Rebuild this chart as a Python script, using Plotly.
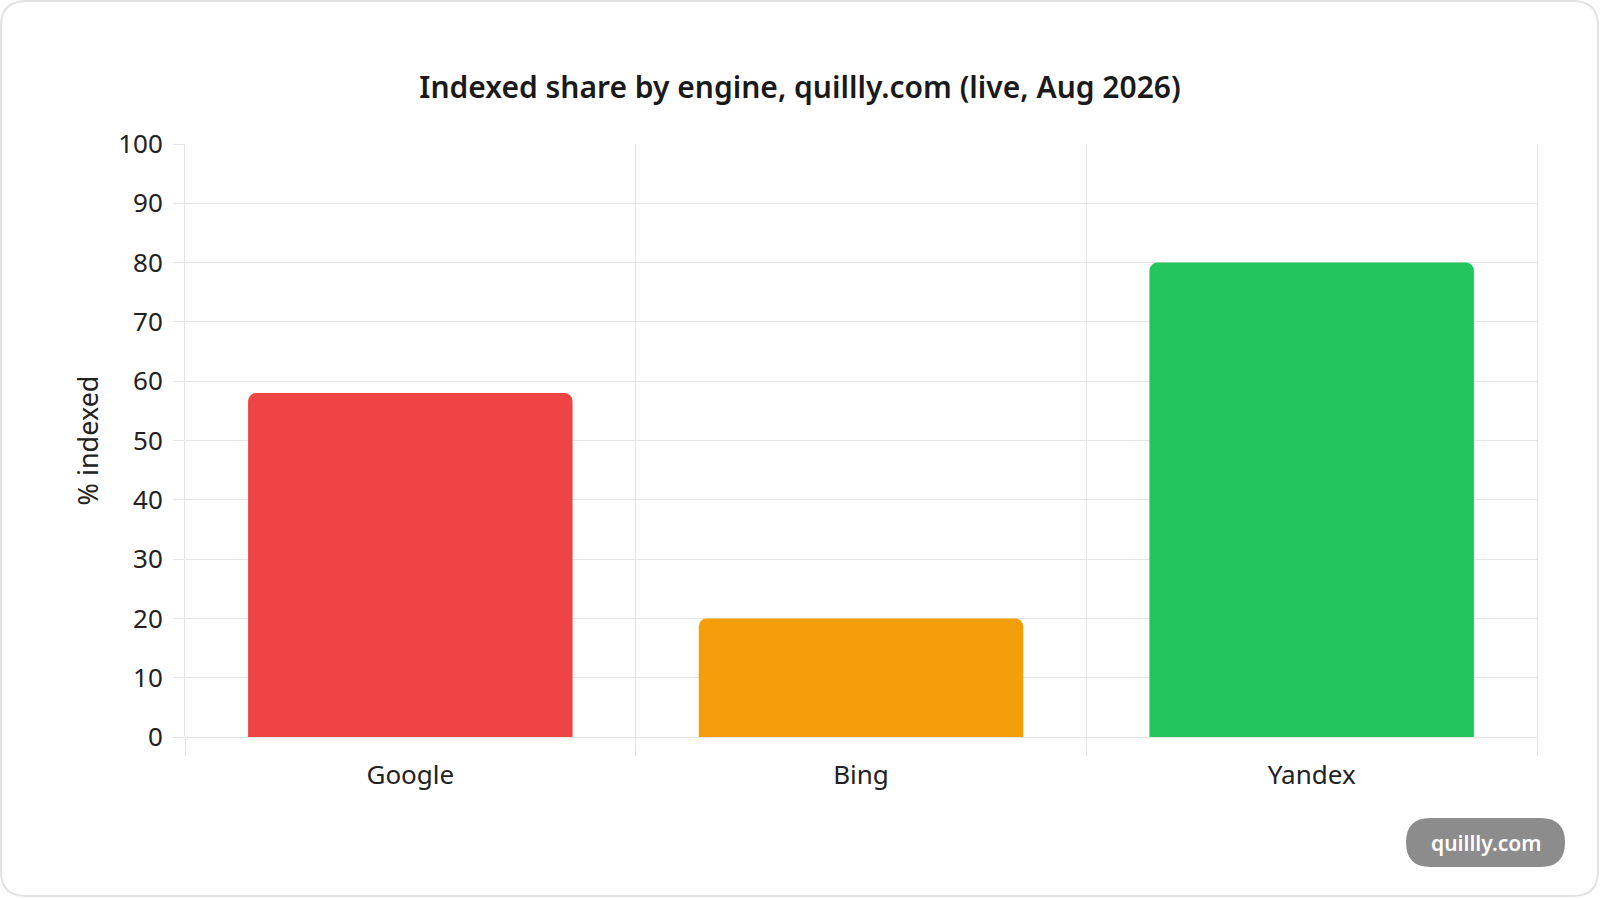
import plotly.graph_objects as go

# data
engines = ["Google", "Bing", "Yandex"]
indexed_pct = [58, 20, 80]
bar_colors = ["#ef4444", "#f59e0b", "#22c55e"]
y_ticks = [0, 10, 20, 30, 40, 50, 60, 70, 80, 90, 100]

W, H = 1600, 898
ML, MR, MT, MB = 185, 63, 144, 161
PW, PH = W - ML - MR, H - MT - MB
GRID = "#e5e5e5"
FONT = "Noto Sans"


def px_x(p):
    return (p - ML) / PW


def px_y(p):
    return (H - MB - p) / PH


def round_rect(x0, y0, x1, y1, r):
    # rounded rectangle in paper units, corners from pixel radius
    rx, ry = r / PW, r / PH
    a, b, c, d = px_x(x0), px_y(y0), px_x(x1), px_y(y1)
    return (f"M{a+rx},{b} L{c-rx},{b} Q{c},{b} {c},{b-ry} "
            f"L{c},{d+ry} Q{c},{d} {c-rx},{d} L{a+rx},{d} "
            f"Q{a},{d} {a},{d+ry} L{a},{b-ry} Q{a},{b} {a+rx},{b} Z")


fig = go.Figure(go.Bar(
    x=engines, y=indexed_pct,
    marker=dict(color=bar_colors, cornerradius=8, line=dict(width=0)),
    hoverinfo="x+y",
))

fig.update_layout(
    width=W, height=H,
    margin=dict(l=ML, r=MR, t=MT, b=MB),
    paper_bgcolor="white", plot_bgcolor="white",
    bargap=0.28,
    showlegend=False,
    font=dict(family=FONT, color="#222222", size=26),
    title=dict(text="Indexed share by engine, quillly.com (live, Aug 2026)",
               x=0.5, xref="container", xanchor="center",
               y=1 - 87 / H, yanchor="middle",
               font=dict(size=30, weight=600, color="#1a1a1a")),
    xaxis=dict(tickson="boundaries", showgrid=True, gridcolor=GRID, gridwidth=1,
               ticks="outside", ticklen=18, tickcolor=GRID, tickwidth=1,
               showline=False, zeroline=False, ticklabelstandoff=20,
               tickfont=dict(size=26)),
    yaxis=dict(range=[0, 100], tickvals=y_ticks, showgrid=True, gridcolor=GRID,
               gridwidth=1, zeroline=True, zerolinecolor=GRID, zerolinewidth=1,
               showline=True, linecolor=GRID, linewidth=1, mirror=True,
               ticks="outside", ticklen=11, tickcolor=GRID, tickwidth=1,
               ticklabelstandoff=5, tickfont=dict(size=26)),
    shapes=[
        dict(type="path", xref="paper", yref="paper", layer="below",
             path=round_rect(1, 1, 1598, 896, 25),
             line=dict(color="#e2e2e2", width=2), fillcolor="rgba(0,0,0,0)"),
        dict(type="path", xref="paper", yref="paper",
             path=round_rect(1406, 818, 1565, 867, 24.5),
             line=dict(width=0), fillcolor="#8c8c8c"),
    ],
    annotations=[
        dict(text="% indexed", textangle=-90, xref="paper", yref="paper",
             x=px_x(87), y=0.5, showarrow=False, xanchor="center",
             yanchor="middle", font=dict(size=27, color="#222222")),
        dict(text="quillly.com", xref="paper", yref="paper",
             x=px_x(1486), y=px_y(843), showarrow=False, xanchor="center",
             yanchor="middle", font=dict(size=21, color="white", weight=600)),
    ],
)

# drop the browser's default 8px body margin so the card sits at the page edge
fig.write_html("out.html", config={"displayModeBar": False},
               post_script="document.body.style.margin = '0';")
